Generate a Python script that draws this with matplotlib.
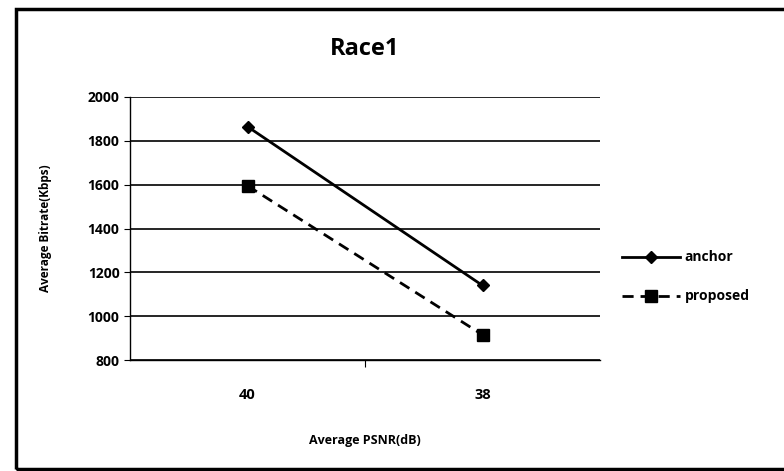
import numpy as np
import matplotlib.pyplot as plt
from matplotlib.patches import Rectangle

#%% data
psnr_labels = ["40", "38"]
anchor = [1865, 1140]
proposed = [1595, 915]
yticks = [800, 1000, 1200, 1400, 1600, 1800, 2000]

plt.rcParams['font.family'] = ['Open Sans', 'DejaVu Sans']
plt.rcParams['font.weight'] = 'bold'

W, H = 784, 471
fig = plt.figure(figsize=(W/100, H/100), dpi=100)

# outer frame (right edge runs off the image)
fig.patches.append(Rectangle((16/W, 2/H), 1.0, (460)/H, transform=fig.transFigure,
                             fill=False, edgecolor='black', linewidth=2.5, clip_on=False))

ax = fig.add_axes([130/W, 1 - 360/H, 470/W, 263/H])
x = np.arange(len(psnr_labels))

ax.plot(x, anchor, color='black', lw=2, marker='D', ms=6, label='anchor')
ax.plot(x, proposed, color='black', lw=2, ls=(0, (4, 2.5)), marker='s', ms=8, label='proposed')

ax.set_xlim(-0.5, 1.5)
ax.set_ylim(800, 2000)
ax.set_yticks(yticks)
ax.set_xticks([0.5])
ax.set_xticklabels([])
ax.tick_params(axis='x', length=5, direction='out')
ax.tick_params(axis='y', length=4, direction='out', labelsize=10)
for i, lab in enumerate(psnr_labels):
    ax.text(x[i], 640, lab, ha='center', va='center', fontsize=10.5, fontweight='bold',
            transform=ax.transData)
ax.grid(axis='y', color='black', lw=1.2)
ax.set_axisbelow(True)
for s in ['top', 'right']:
    ax.spines[s].set_visible(False)
ax.spines['left'].set_linewidth(1)
ax.spines['bottom'].set_linewidth(1)

ax.set_title("Race1", fontsize=17, fontweight='bold', pad=30)
ax.set_xlabel("Average PSNR(dB)", fontsize=9, fontweight='bold', labelpad=45)
ax.set_ylabel("Average Bitrate(Kbps)", fontsize=8.5, fontweight='bold', labelpad=26)

ax.legend(loc='center left', bbox_to_anchor=(1.02, 0.316), frameon=False,
          fontsize=10, handlelength=4.2, labelspacing=1.8, handletextpad=0.3)

fig.savefig("out.png", dpi=100)
plt.show()
